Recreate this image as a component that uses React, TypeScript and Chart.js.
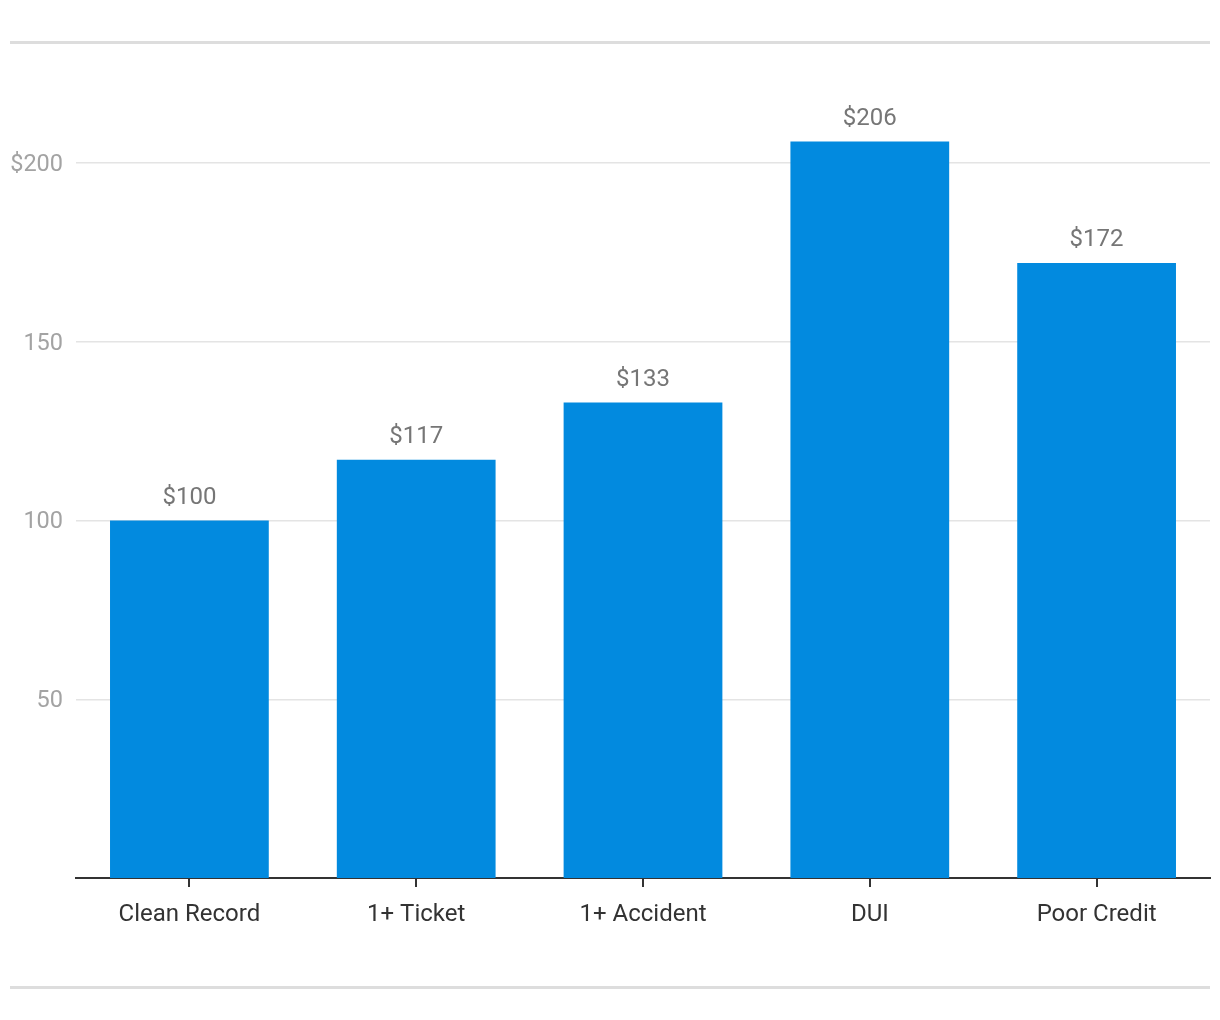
import React, { useEffect, useRef } from "react";
import { Chart, registerables } from "chart.js";

Chart.register(...registerables);

const CATEGORIES = ["Clean Record", "1+ Ticket", "1+ Accident", "DUI", "Poor Credit"];
const PREMIUMS = [100, 117, 133, 206, 172];
const Y_TICKS = [50, 100, 150, 200];
const Y_TICK_LABELS: Record<number, string> = { 50: "50", 100: "100", 150: "150", 200: "$200" };
const Y_MAX = 220;

const W = 1220;
const H = 1020;
const PLOT_LEFT = 76;
const PLOT_BOTTOM = 878;
const PX_PER_UNIT = 3.575;

const frameLines = {
  id: "frameLines",
  beforeDraw(chart: any) {
    const ctx = chart.ctx;
    ctx.save();
    ctx.fillStyle = "#dddddd";
    ctx.fillRect(10, 41, 1200, 3);
    ctx.fillRect(10, 986, 1200, 3);
    ctx.restore();
  },
};

const valueLabels = {
  id: "valueLabels",
  afterDatasetsDraw(chart: any) {
    const ctx = chart.ctx;
    const meta = chart.getDatasetMeta(0);
    const data = chart.data.datasets[0].data as number[];
    ctx.save();
    ctx.font = "24px Roboto";
    ctx.fillStyle = "#767676";
    ctx.textAlign = "center";
    ctx.textBaseline = "alphabetic";
    meta.data.forEach((bar: any, i: number) => {
      ctx.fillText("$" + data[i], bar.x, bar.y - 17);
    });
    ctx.restore();
  },
};

export default function App() {
  const ref = useRef<HTMLCanvasElement | null>(null);

  useEffect(() => {
    if (!ref.current) return;
    const chart = new Chart(ref.current, {
      type: "bar",
      data: {
        labels: CATEGORIES,
        datasets: [
          {
            data: PREMIUMS,
            backgroundColor: "#028ADF",
            borderWidth: 0,
            barPercentage: 0.7,
            categoryPercentage: 1.0,
          },
        ],
      },
      options: {
        responsive: false,
        animation: false,
        layout: {
          padding: {
            top: PLOT_BOTTOM - Y_MAX * PX_PER_UNIT,
            right: 10,
            left: 0,
            bottom: 0,
          },
        },
        plugins: {
          legend: { display: false },
          tooltip: { enabled: false },
        },
        scales: {
          x: {
            grid: {
              display: true,
              drawOnChartArea: false,
              drawTicks: true,
              tickLength: 9,
              color: "#333333",
              lineWidth: 2,
              offset: false,
            },
            border: { display: true, color: "#333333", width: 2 },
            ticks: {
              color: "#333333",
              font: { family: "Roboto", size: 24 },
              padding: 14,
              maxRotation: 0,
            },
            afterFit(scale: any) {
              scale.height = H - PLOT_BOTTOM;
            },
          },
          y: {
            min: 0,
            max: Y_MAX,
            afterBuildTicks(scale: any) {
              scale.ticks = Y_TICKS.map((v) => ({ value: v }));
            },
            grid: {
              color: "#e4e4e4",
              lineWidth: 1.5,
              drawTicks: false,
            },
            border: { display: false },
            ticks: {
              color: "#a3a3a3",
              font: { family: "Roboto", size: 23.5 },
              padding: 13,
              labelOffset: 2,
              callback: (v: any) => Y_TICK_LABELS[v as number] ?? "",
            },
            afterFit(scale: any) {
              scale.width = PLOT_LEFT;
            },
          },
        },
      },
      plugins: [frameLines, valueLabels],
    });
    return () => chart.destroy();
  }, []);

  return (
    <div style={{ position: "absolute", left: 0, top: 0, width: W, height: H, background: "#fff" }}>
      <canvas ref={ref} width={W} height={H} style={{ width: W, height: H, display: "block" }} />
    </div>
  );
}
